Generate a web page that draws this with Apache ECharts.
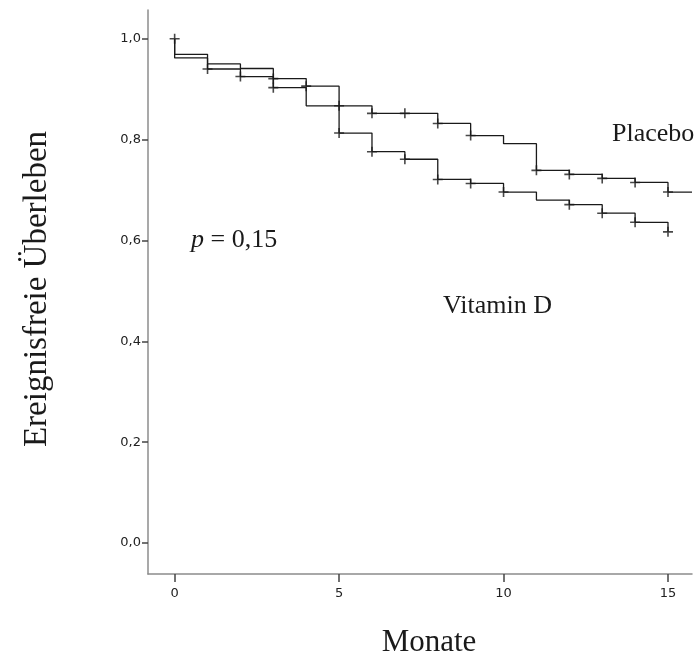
<!DOCTYPE html>
<html>
<head>
<meta charset="utf-8">
<script src="https://cdn.jsdelivr.net/npm/echarts@6/dist/echarts.min.js"></script>
<style>
  html, body { margin: 0; padding: 0; background: #fff; }
  #chart { width: 696px; height: 657px; }
</style>
</head>
<body>
<div id="chart"></div>
<script>
// Kaplan-Meier Stufen (Zeit in Monaten, Anteil ereignisfrei)
var placeboTimes = [0, 0, 1, 2, 3, 4, 6, 8, 9, 10, 11, 12, 13, 14, 15, 15.73]
var placeboSurv = [1.0, 0.962, 0.940, 0.925, 0.903, 0.867, 0.852, 0.832, 0.808, 0.792, 0.739, 0.731, 0.723, 0.715, 0.696, 0.696]
var vitdTimes = [0, 0, 1, 2, 3, 4, 5, 6, 7, 8, 9, 10, 11, 12, 13, 14, 15]
var vitdSurv = [1.0, 0.969, 0.950, 0.941, 0.921, 0.906, 0.813, 0.776, 0.761, 0.721, 0.713, 0.696, 0.680, 0.671, 0.654, 0.636, 0.617]

// zensierte Fälle (+)
var placeboCensT = [1, 2, 3, 5, 6, 7, 8, 9, 11, 12, 13, 14, 15]
var placeboCensS = [0.940, 0.925, 0.903, 0.867, 0.852, 0.852, 0.832, 0.808, 0.739, 0.731, 0.723, 0.715, 0.696]
var vitdCensT = [0, 3, 4, 5, 6, 7, 8, 9, 10, 12, 13, 14, 15]
var vitdCensS = [1.0, 0.921, 0.906, 0.813, 0.776, 0.761, 0.721, 0.713, 0.696, 0.671, 0.654, 0.636, 0.617]

var xTicks = [0, 5, 10, 15]
var yTicks = [0, 0.2, 0.4, 0.6, 0.8, 1.0]

function zip(a, b) {
  return a.map(function(v, i) { return [v, b[i]] })
}

var plus = 'path://M4.2,0H5.8V4.2H10V5.8H5.8V10H4.2V5.8H0V4.2H4.2Z'
var ink = '#1a1a1a'
var serif = 'Liberation Serif'

var chart = echarts.init(document.getElementById('chart'))
chart.setOption({
  animation: false,
  backgroundColor: '#fff',
  grid: {
    left: 148,
    right: 4,
    top: 10,
    bottom: 83
  },
  xAxis: {
    type: 'value',
    min: -0.81,
    max: 15.73,
    axisLine: { onZero: false, lineStyle: { color: '#8c8c8c', width: 1.5 } },
    axisTick: { customValues: xTicks, length: 8, lineStyle: { color: '#444', width: 1.5 } },
    axisLabel: {
      customValues: xTicks,
      margin: 13,
      color: '#222',
      fontFamily: 'DejaVu Sans',
      fontSize: 13
    },
    splitLine: { show: false }
  },
  yAxis: {
    type: 'value',
    min: -0.0615,
    max: 1.057,
    axisLine: { show: true, onZero: false, lineStyle: { color: '#8c8c8c', width: 1.5 } },
    axisTick: { show: true, customValues: yTicks, length: 6, lineStyle: { color: '#444', width: 1.5 } },
    axisLabel: {
      customValues: yTicks,
      margin: 7,
      color: '#222',
      fontFamily: 'DejaVu Sans',
      fontSize: 13,
      formatter: function(v) { return v.toFixed(1).replace('.', ',') }
    },
    splitLine: { show: false }
  },
  graphic: [
    {
      type: 'text', x: 37, y: 289, rotation: Math.PI / 2,
      style: { text: 'Ereignisfreie Überleben', font: '33px "Liberation Serif"', fill: ink, align: 'center', verticalAlign: 'middle' }
    },
    {
      type: 'text', x: 429, y: 643,
      style: { text: 'Monate', font: '31px "Liberation Serif"', fill: ink, align: 'center', verticalAlign: 'middle' }
    },
    {
      type: 'text', x: 612, y: 134,
      style: { text: 'Placebo', font: '26px "Liberation Serif"', fill: ink, align: 'left', verticalAlign: 'middle' }
    },
    {
      type: 'text', x: 443, y: 306,
      style: { text: 'Vitamin D', font: '26px "Liberation Serif"', fill: ink, align: 'left', verticalAlign: 'middle' }
    },
    {
      type: 'text', x: 191, y: 240,
      style: {
        text: '{i|p} = 0,15',
        font: '26px "Liberation Serif"',
        fill: ink,
        align: 'left',
        verticalAlign: 'middle',
        rich: { i: { fontFamily: serif, fontSize: 26, fontStyle: 'italic', fill: ink } }
      }
    }
  ],
  series: [
    {
      name: 'Placebo',
      type: 'line',
      step: 'end',
      symbol: 'none',
      data: zip(placeboTimes, placeboSurv),
      lineStyle: { color: ink, width: 1.3 }
    },
    {
      name: 'Vitamin D',
      type: 'line',
      step: 'end',
      symbol: 'none',
      data: zip(vitdTimes, vitdSurv),
      lineStyle: { color: ink, width: 1.3 }
    },
    {
      name: 'Placebo zensiert',
      type: 'scatter',
      symbol: plus,
      symbolSize: 10,
      itemStyle: { color: ink },
      data: zip(placeboCensT, placeboCensS)
    },
    {
      name: 'Vitamin D zensiert',
      type: 'scatter',
      symbol: plus,
      symbolSize: 10,
      itemStyle: { color: ink },
      data: zip(vitdCensT, vitdCensS)
    }
  ]
})
</script>
</body>
</html>
